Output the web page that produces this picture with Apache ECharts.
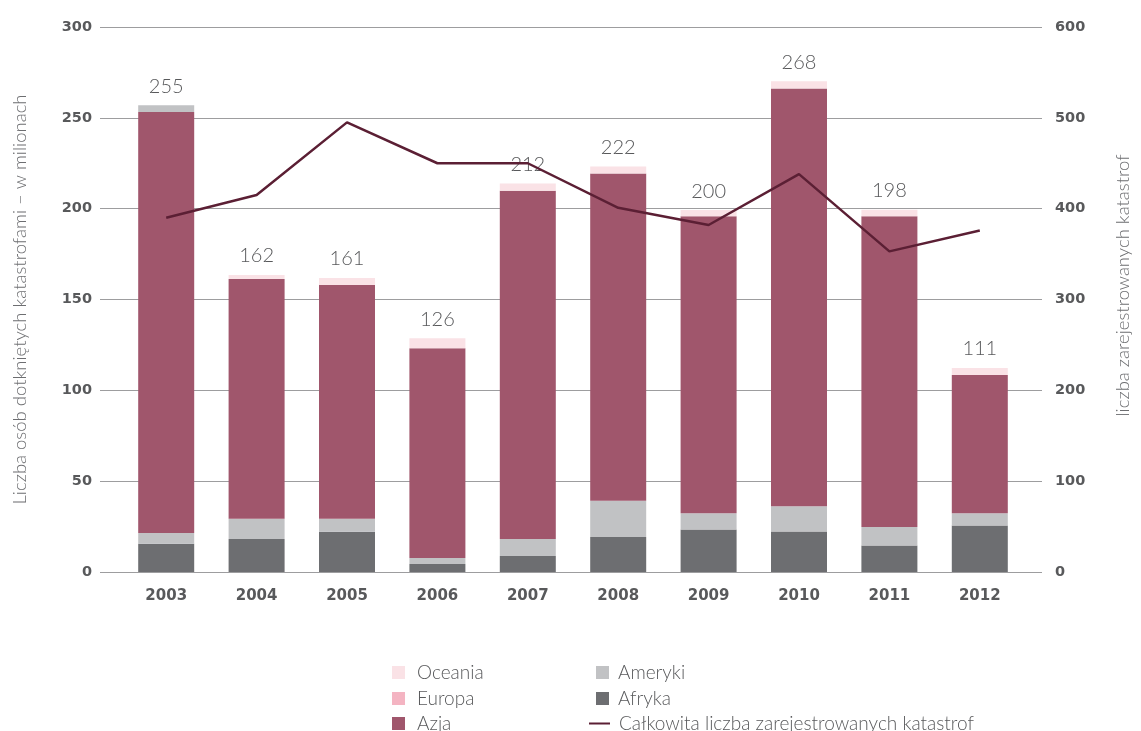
<!DOCTYPE html>
<html>
<head>
<meta charset="utf-8">
<script src="https://cdn.jsdelivr.net/npm/echarts@6/dist/echarts.min.js"></script>
<style>
  html, body { margin: 0; padding: 0; background: #fff; }
  #chart { width: 1141px; height: 731px; }
</style>
</head>
<body>
<div id="chart"></div>
<script>
// lata
var years = ['2003', '2004', '2005', '2006', '2007', '2008', '2009', '2010', '2011', '2012'];
// liczba osób dotkniętych (mln) wg regionu
var afryka  = [15.5, 18.2, 22.1, 4.4, 8.8, 19.3, 23.4, 22.3, 14.6, 25.6];
var ameryki = [6.0, 11.1, 7.2, 3.3, 9.4, 19.9, 8.9, 13.9, 10.2, 6.7];
var azja    = [231.7, 132.0, 128.7, 115.5, 191.7, 180.1, 163.5, 230.0, 171.0, 76.1];
var europa  = [0, 0, 0, 0, 0, 0, 0, 0, 0, 0];
var oceania = [3.7, 2.2, 3.9, 5.5, 3.9, 3.9, 3.4, 3.9, 3.6, 3.9];
// sumy podpisane nad słupkami
var totals = [255, 162, 161, 126, 212, 222, 200, 268, 198, 111];
// całkowita liczba zarejestrowanych katastrof (prawa oś)
var katastrofy = [390, 415, 495, 450, 450, 401, 382, 438, 353, 376];

var FONT = 'Lato, "Noto Sans", sans-serif';
var TICK = { color: '#58595b', fontFamily: '"DejaVu Sans", sans-serif', fontWeight: 'bold', fontSize: 14.5 };
var LEGEND_TEXT = { color: '#58595b', fontFamily: FONT, fontWeight: 300, fontSize: 19 };

var chart = echarts.init(document.getElementById('chart'));

function barSeries(name, data, color) {
  return {
    name: name,
    type: 'bar',
    stack: 'regiony',
    xAxisIndex: 1,
    yAxisIndex: 2,
    barWidth: 56,
    itemStyle: { color: color },
    emphasis: { disabled: true },
    data: data
  };
}

// jedna pozycja legendy = jeden komponent (kolumny jak w oryginale)
function legendItem(item, left, top, textPad, icon, iconW) {
  return {
    data: [item],
    left: left, top: top, padding: 0,
    itemWidth: iconW || 13, itemHeight: 13,
    icon: icon || 'rect',
    textStyle: Object.assign({ padding: [0, 0, 0, textPad] }, LEGEND_TEXT)
  };
}

var option = {
  animation: false,
  grid: [
    { left: 100, right: 96, top: 27, bottom: 159 },   // siatka i osie z podpisami
    { left: 121, right: 116, top: 27, bottom: 159 }   // słupki
  ],
  legend: [
    legendItem({ name: 'Oceania', itemStyle: { color: '#fae2e6' } }, 392, 663, 7),
    legendItem('Europa', 392, 689, 7),
    legendItem('Azja', 392, 714, 7),
    legendItem('Ameryki', 596, 663, 4),
    legendItem('Afryka', 596, 689, 4),
    legendItem('Całkowita liczba zarejestrowanych katastrof', 589, 714, 4, 'path://M0,5.5H21V7.5H0Z', 21)
  ],
  xAxis: [
    { type: 'category', gridIndex: 0, data: years, show: false },
    {
      type: 'category', gridIndex: 1, data: years,
      axisLine: { show: false }, axisTick: { show: false },
      axisLabel: Object.assign({ margin: 17 }, TICK, { fontSize: 15 })
    }
  ],
  yAxis: [
    {
      type: 'value', gridIndex: 0, min: 0, max: 300, interval: 50,
      name: 'Liczba osób dotkniętych katastrofami – w milionach',
      nameLocation: 'middle', nameGap: 70,
      nameTextStyle: { color: '#6d6e71', fontFamily: FONT, fontWeight: 300, fontSize: 18.5 },
      axisLine: { show: false }, axisTick: { show: false },
      axisLabel: Object.assign({ margin: 8 }, TICK),
      splitLine: { lineStyle: { color: '#9d9d9f', width: 1.2 } }
    },
    {
      type: 'value', gridIndex: 0, position: 'right', min: 0, max: 600, interval: 100,
      name: 'liczba zarejestrowanych katastrof',
      nameLocation: 'middle', nameGap: 72,
      nameTextStyle: { color: '#6d6e71', fontFamily: FONT, fontWeight: 300, fontSize: 18.5, padding: [0, 0, 0, 28] },
      axisLine: { show: false }, axisTick: { show: false },
      axisLabel: Object.assign({ margin: 13 }, TICK),
      splitLine: { show: false }
    },
    { type: 'value', gridIndex: 1, min: 0, max: 300, show: false, splitLine: { show: false } },
    { type: 'value', gridIndex: 1, min: 0, max: 600, show: false, splitLine: { show: false } }
  ],
  series: [
    barSeries('Afryka', afryka, '#6d6e71'),
    barSeries('Ameryki', ameryki, '#c1c2c4'),
    barSeries('Azja', azja, '#a0566c'),
    barSeries('Europa', europa, '#f4b4c2'),
    Object.assign(barSeries('Oceania', oceania, '#fae2e6'), {
      itemStyle: {
        // w 2003 r. górny segment jest szary na oryginale
        color: function (p) { return p.dataIndex === 0 ? '#c1c2c4' : '#fae2e6'; }
      },
      label: {
        show: true, position: 'top', distance: 9,
        color: '#58595b', fontFamily: FONT, fontWeight: 300, fontSize: 20,
        formatter: function (p) { return totals[p.dataIndex]; }
      }
    }),
    {
      name: 'Całkowita liczba zarejestrowanych katastrof',
      type: 'line',
      xAxisIndex: 1,
      yAxisIndex: 3,
      symbol: 'none',
      lineStyle: { color: '#5b1f34', width: 2.5 },
      itemStyle: { color: '#5b1f34' },
      z: 5,
      data: katastrofy
    }
  ]
};

chart.setOption(option);
</script>
</body>
</html>
